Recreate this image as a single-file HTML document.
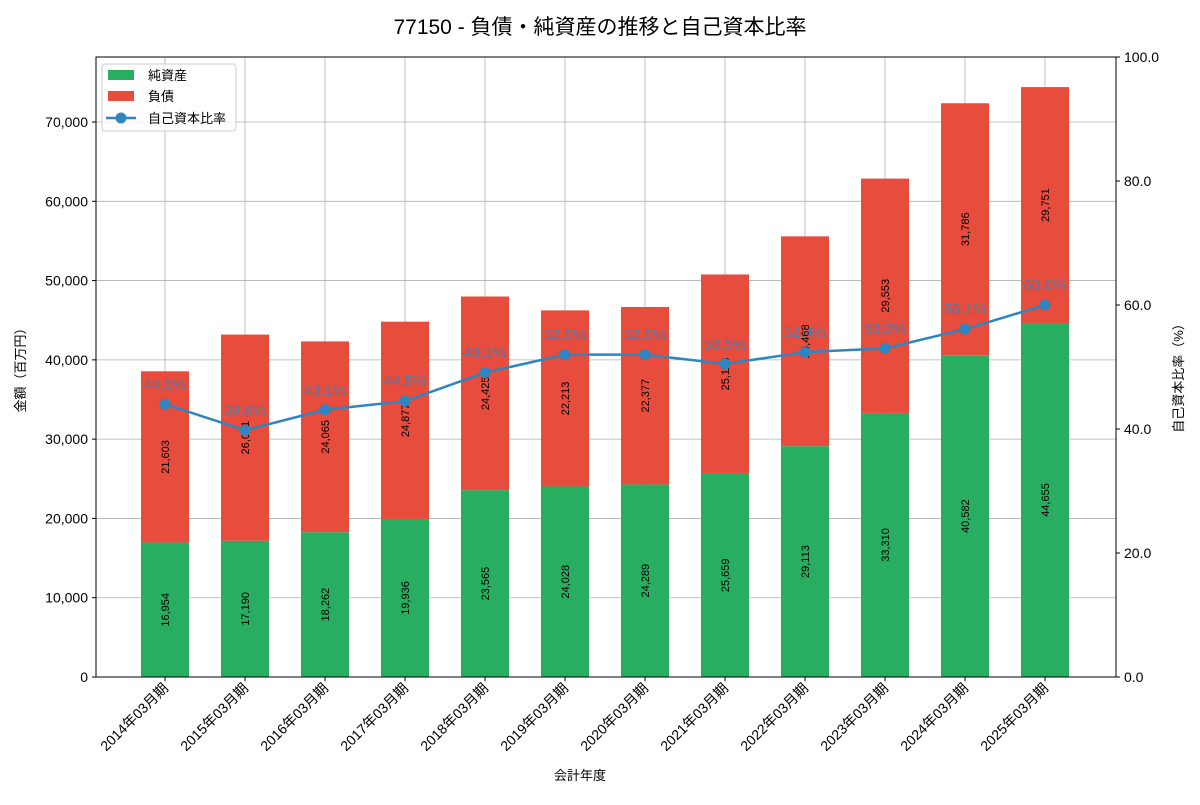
<!DOCTYPE html>
<html><head><meta charset="utf-8"><style>
body{margin:0;background:#fff}
svg{font-family:"Liberation Sans","Noto Sans CJK JP",sans-serif}
</style></head><body>
<svg id="chart" width="1200" height="800" viewBox="0 0 1200 800">
<text x="600" y="34" text-anchor="middle" font-size="21">77150 - 負債・純資産の推移と自己資本比率</text>
<g id="grid"></g><g id="bars"></g><g id="line"></g><g id="axes"></g>
<text x="580" y="780" font-size="13" text-anchor="middle">会計年度</text>
<text transform="translate(25,367) rotate(-90)" font-size="13" text-anchor="middle">金額（百万円）</text>
<text transform="translate(1183,375) rotate(-90)" font-size="13" text-anchor="middle">自己資本比率（%）</text>
<g>
<rect x="102" y="64" width="134" height="67" rx="3" fill="#fff" fill-opacity="0.8" stroke="#ccc"/>
<rect x="108" y="70" width="26" height="10" fill="#27ae60"/>
<text x="148" y="80" font-size="13">純資産</text>
<rect x="108" y="91" width="26" height="10" fill="#e74c3c"/>
<text x="148" y="101" font-size="13">負債</text>
<line x1="106" y1="118" x2="136" y2="118" stroke="#2e86c1" stroke-width="2.5"/>
<circle cx="121" cy="118" r="5.5" fill="#2e86c1"/>
<text x="148" y="123" font-size="13">自己資本比率</text>
</g>
</svg>
<script>
const categories=["2014年03月期","2015年03月期","2016年03月期","2017年03月期","2018年03月期","2019年03月期","2020年03月期","2021年03月期","2022年03月期","2023年03月期","2024年03月期","2025年03月期"];
const equity=[16954,17190,18262,19936,23565,24028,24289,25659,29113,33310,40582,44655];
const debt=[21603,26001,24065,24877,24425,22213,22377,25113,26468,29553,31786,29751];
const ratio=[44.0,39.8,43.1,44.5,49.1,52.0,52.0,50.5,52.4,53.0,56.1,60.0];
const yTicks=[0,10000,20000,30000,40000,50000,60000,70000];
const y2Ticks=[0,20,40,60,80,100];
const L=96,R=1116,T=57,B=677,YMAX=78200;
const NS="http://www.w3.org/2000/svg";
const xS=i=>165+80*i, yS=v=>B-(B-T)*v/YMAX, y2S=v=>B-(B-T)*v/100;
function mk(p,t,a){const e=document.createElementNS(NS,t);for(const k in a)e.setAttribute(k,a[k]);document.getElementById(p)?document.getElementById(p).appendChild(e):p.appendChild(e);return e;}
const fmt=v=>v.toLocaleString("en-US");
yTicks.forEach(v=>{const y=yS(v);
 mk("grid","line",{x1:L,x2:R,y1:y,y2:y,stroke:"#b0b0b0","stroke-width":0.8});
 mk("axes","line",{x1:L-4,x2:L,y1:y,y2:y,stroke:"#000"});
 const t=mk("axes","text",{x:L-8,y:y+5,"text-anchor":"end","font-size":14});t.textContent=fmt(v);
 
 });
y2Ticks.forEach(v=>{const y=y2S(v);
 mk("axes","line",{x1:R,x2:R+4,y1:y,y2:y,stroke:"#000"});
 const t=mk("axes","text",{x:R+8,y:y+5,"font-size":14});t.textContent=v.toFixed(1);
 
 });
categories.forEach((c,i)=>{const x=xS(i);
 mk("grid","line",{x1:x,x2:x,y1:T,y2:B,stroke:"#b0b0b0","stroke-width":0.8});
 mk("axes","line",{x1:x,x2:x,y1:B,y2:B+4,stroke:"#000"});
 const t=mk("axes","text",{transform:`translate(${x+4},${B+12}) rotate(-45)`,"text-anchor":"end","font-size":14});t.textContent=c;
 
 
 const e=mk("bars","rect",{x:x-24,width:48,y:yS(equity[i]),height:B-yS(equity[i]),fill:"#27ae60"});
 
 
 const d=mk("bars","rect",{x:x-24,width:48,y:yS(equity[i]+debt[i]),height:yS(equity[i])-yS(equity[i]+debt[i]),fill:"#e74c3c"});
 
 
 [[equity[i]/2,equity[i]],[equity[i]+debt[i]/2,debt[i]]].forEach(([m,v])=>{
  const lt=mk("bars","text",{transform:`translate(${x+4},${yS(m)}) rotate(-90)`,"text-anchor":"middle","font-size":11});lt.textContent=fmt(v);
  
  });
});
const ax=document.getElementById("axes");
mk("axes","rect",{x:L,y:T,width:R-L,height:B-T,fill:"none",stroke:"#000","stroke-width":1});
const pts=ratio.map((v,i)=>xS(i)+","+y2S(v)).join(" ");
const pl=mk("line","polyline",{points:pts,fill:"none",stroke:"#2e86c1","stroke-width":2.5});


ratio.forEach((v,i)=>{
 const c=mk("line","circle",{cx:xS(i),cy:y2S(v),r:5.5,fill:"#2e86c1"});
 
 
 const t=mk("line","text",{x:xS(i),y:y2S(v)-15,"text-anchor":"middle","font-size":15,fill:"#2e86c1","fill-opacity":0.8});t.textContent=v.toFixed(1)+"%";
 
 
});
</script>
</body></html>
